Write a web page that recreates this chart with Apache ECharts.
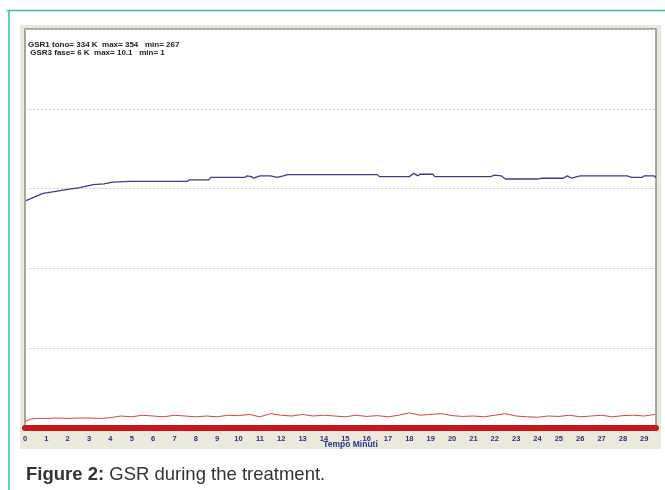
<!DOCTYPE html>
<html>
<head>
<meta charset="utf-8">
<script src="https://cdn.jsdelivr.net/npm/echarts@6/dist/echarts.min.js"></script>
<style>
html,body{margin:0;padding:0;background:#fff;}
#c{width:665px;height:490px;}
</style>
</head>
<body>
<div id="c"></div>
<script>
// Tick labels (minutes)
var xTicks = [0,1,2,3,4,5,6,7,8,9,10,11,12,13,14,15,16,17,18,19,20,21,22,23,24,25,26,27,28,29];
// GSR1 tone (blue) : [minute, value]
var gsr1Minutes = [0.05,0.4,0.85,1.3,2.0,2.5,3.2,3.7,4.1,4.9,7.6,7.7,8.6,8.7,10.3,10.4,10.6,10.7,11.0,11.5,11.8,12.1,12.3,16.5,16.6,18.0,18.2,18.4,18.5,19.1,19.2,21.8,22.0,22.3,22.5,24.0,24.2,25.2,25.4,25.6,26.0,28.2,28.4,28.9,29.0,29.45,29.55];
var gsr1Values  = [285,289,294,296,299,301,305,306,308,309,309,311,311,314,314,316,315,313,316,316,314,316,317.5,317.5,315,315,319,316,318,318,315,315,317,316,312,312,313,313,316,313,316,316,314,314,316,316,313.75];
// GSR3 phase (red)
var gsr3Minutes = [0,0.25,0.5,1,1.5,2,2.5,3,3.5,4,4.5,5,5.5,6,6.5,7,7.5,8,8.5,9,9.5,10,10.5,11,11.5,12,12.5,13,13.5,14,14.5,15,15.5,16,16.5,17,17.5,18,18.5,19,19.5,20,20.5,21,21.5,22,22.5,23,23.5,24,24.5,25,25.5,26,26.5,27,27.5,28,28.5,29,29.5];
var gsr3Values  = [8,11,12,12,12.5,12,12.5,12.5,12,13,15,14,16,15,14,16,15,14,15,14,16,15.5,17,14,18,16,15,17,15,16,15,14,16,14.5,15.5,14,16,19,16,17,18,15.5,14.5,15,14,16,18,15,14,13.5,15,14.5,16,14,15,16,14,15.5,16,15,17];
var infoLines = ['GSR1 tono= 334 K  max= 354   min= 267', ' GSR3 fase= 6 K  max= 10.1   min= 1'];
var axisName = 'Tempo Minuti';
var captionBold = 'Figure 2:';
var captionText = ' GSR during the treatment.';

function pairs(xs, ys){ var o=[]; for(var i=0;i<xs.length;i++) o.push([xs[i], ys[i]]); return o; }

var chart = echarts.init(document.getElementById('c'), null, {renderer:'canvas'});
chart.setOption({
  animation:false,
  backgroundColor:'#ffffff',
  graphic:[
    {type:'rect', z:-10, shape:{x:20,y:25,width:641,height:424}, style:{fill:'#ece9dc'}},
    {type:'line', z:100, shape:{x1:7,y1:10.5,x2:665,y2:10.5}, style:{stroke:'#2fbfa5',lineWidth:1.5}},
    {type:'line', z:100, shape:{x1:9,y1:10,x2:9,y2:490}, style:{stroke:'#2fbfa5',lineWidth:1.5}},
    {type:'text', z:100, left:28, top:41, style:{text:infoLines[0], fill:'#222', font:'bold 8px "Liberation Sans", Arial, sans-serif'}},
    {type:'text', z:100, left:28, top:48.5, style:{text:infoLines[1], fill:'#222', font:'bold 8px "Liberation Sans", Arial, sans-serif'}},
    {type:'text', z:100, left:26, top:465, style:{
      text:'{b|'+captionBold+'}{n|'+captionText+'}',
      rich:{
        b:{fontFamily:'"Liberation Sans", Arial, sans-serif', fontSize:18.5, fontWeight:'bold', fill:'#333'},
        n:{fontFamily:'"Liberation Sans", Arial, sans-serif', fontSize:18.5, fill:'#333'}
      }}}
  ],
  grid:{left:25, top:29, right:9, bottom:62, show:true, backgroundColor:'#ffffff', borderColor:'#8c8c8c', borderWidth:1.5},
  xAxis:{
    type:'value', min:0, max:29.55, interval:1,
    name:axisName, nameLocation:'middle', nameGap:12, nameMoveOverlap:false,
    nameTextStyle:{color:'#2a3590', fontSize:8.5, fontWeight:'bold', padding:[0,0,0,20], fontFamily:'"Liberation Sans", Arial, sans-serif'},
    axisLine:{lineStyle:{color:'#c8161d', width:6}},
    axisTick:{show:false},
    splitLine:{show:false},
    axisLabel:{color:'#2b2f7a', fontSize:7.5, fontWeight:'bold', margin:7, showMaxLabel:false,
      fontFamily:'"Liberation Sans", Arial, sans-serif',
      formatter:function(v){ return xTicks.indexOf(v) >= 0 ? String(v) : ''; }}
  },
  yAxis:{
    type:'value', min:0, max:500, interval:100,
    axisLine:{show:false}, axisTick:{show:false}, axisLabel:{show:false},
    splitLine:{lineStyle:{color:'#c9c9d6', type:[2,2], width:1}}
  },
  series:[
    {type:'line', data:pairs(gsr1Minutes,gsr1Values), showSymbol:false, lineStyle:{color:'#3b3d86', width:1.3}, z:5},
    {type:'line', data:pairs(gsr3Minutes,gsr3Values), showSymbol:false, lineStyle:{color:'#d0444a', width:1}, z:4}
  ]
});
</script>
</body>
</html>
